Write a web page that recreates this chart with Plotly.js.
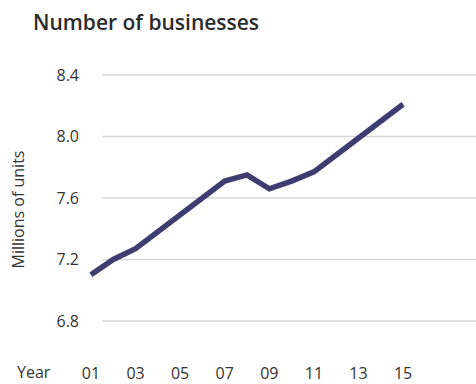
<!DOCTYPE html>
<html>
<head>
<meta charset="utf-8">
<script src="https://cdn.plot.ly/plotly-3.0.1.min.js"></script>
<style>html,body{margin:0;padding:0;background:#fff;}#chart{width:476px;height:384px;}</style>
</head>
<body>
<div id="chart"></div>
<script>
var years = [2001, 2002, 2003, 2004, 2005, 2006, 2007, 2008, 2009, 2010, 2011, 2012, 2013, 2014, 2015];
var businesses = [7.10, 7.20, 7.27, 7.38, 7.49, 7.60, 7.71, 7.75, 7.66, 7.71, 7.77, 7.88, 7.99, 8.10, 8.21];
var xTickVals = [2001, 2003, 2005, 2007, 2009, 2011, 2013, 2015];
var xTickText = ['01', '03', '05', '07', '09', '11', '13', '15'];
var yTickVals = [6.8, 7.2, 7.6, 8.0, 8.4];
var yTickText = ['6.8', '7.2', '7.6', '8.0', '8.4'];

var gridShapes = yTickVals.map(function (v) {
  return {type: 'line', xref: 'paper', yref: 'y', x0: 0.056, x1: 1, y0: v, y1: v,
          line: {color: '#d6d6d6', width: 1.5}, layer: 'below'};
});

var trace = {
  x: years, y: businesses, type: 'scatter', mode: 'lines',
  line: {color: '#3e3c70', width: 5.5}, hoverinfo: 'skip'
};

var layout = {
  width: 476, height: 384,
  margin: {l: 80, r: 0, t: 50, b: 22},
  paper_bgcolor: '#fff', plot_bgcolor: '#fff',
  showlegend: false,
  font: {family: 'Open Sans, sans-serif', color: '#333', size: 16},
  title: {text: 'Number of businesses', x: 33/476, xanchor: 'left', y: 1 - 23/384, yanchor: 'middle',
          font: {family: 'Open Sans, sans-serif', size: 21, color: '#2b2b2b', weight: 600}},
  xaxis: {range: [2000.51, 2018.27], tickvals: xTickVals, ticktext: xTickText,
          showgrid: false, zeroline: false, showline: false, ticks: '', fixedrange: true,
          tickfont: {size: 16, color: '#333'}},
  yaxis: {range: [6.533, 8.563], tickvals: yTickVals, ticktext: yTickText,
          showgrid: false, zeroline: false, showline: false, ticks: '', fixedrange: true,
          tickfont: {size: 16, color: '#333'}},
  shapes: gridShapes,
  annotations: [
    {text: 'Millions of units', xref: 'paper', yref: 'paper', x: (18 - 80) / 396, y: 0.489,
     xanchor: 'center', yanchor: 'middle', textangle: -90, showarrow: false,
     font: {size: 16, color: '#333'}},
    {text: 'Year', xref: 'paper', yref: 'paper', x: (15 - 80) / 396, y: (362 - 372) / 312,
     xanchor: 'left', yanchor: 'middle', showarrow: false,
     font: {size: 16, color: '#333'}}
  ]
};

Plotly.newPlot('chart', [trace], layout, {displayModeBar: false, staticPlot: true});
</script>
</body>
</html>
